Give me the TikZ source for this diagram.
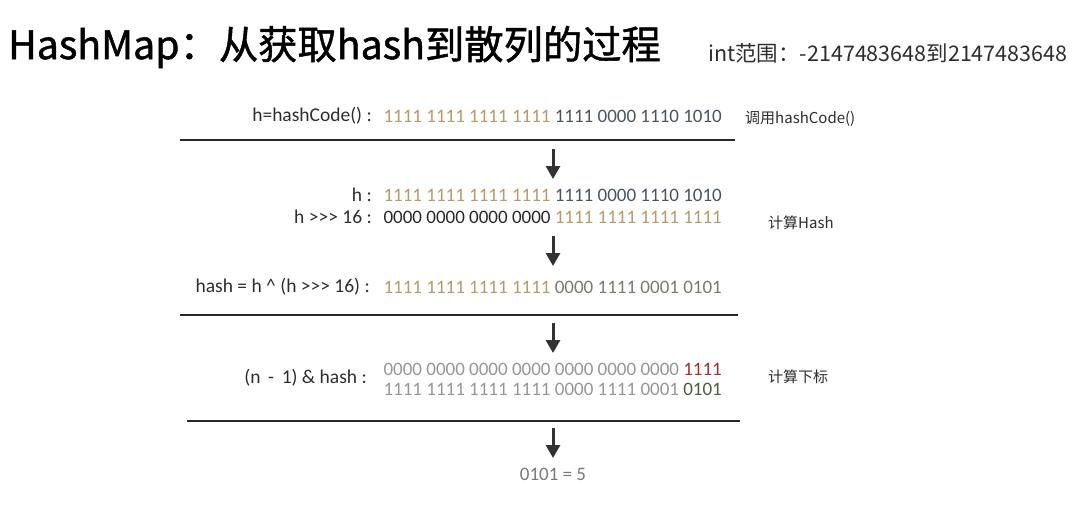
\documentclass[tikz,border=0pt]{standalone}
\usepackage{fontspec}
\setmainfont{Carlito}
\newfontfamily\cjk{Noto Sans CJK SC}
\newfontfamily\cjktitle{Noto Sans CJK SC}[FakeBold=1.2]
\usetikzlibrary{arrows.meta,positioning}
\definecolor{bittan}{RGB}{186,152,104}
\definecolor{bitslate}{RGB}{72,84,96}
\definecolor{bitdark}{RGB}{40,40,40}
\definecolor{bitgreen}{RGB}{118,124,108}
\definecolor{bitgray}{RGB}{150,150,150}
\definecolor{bitred}{RGB}{165,45,45}
\definecolor{bitolive}{RGB}{78,88,66}
\definecolor{labelgray}{RGB}{45,45,45}
\definecolor{rulegray}{RGB}{40,40,40}
\definecolor{arrowgray}{RGB}{50,50,50}

\begin{document}
\begin{tikzpicture}[x=1pt,y=-1pt,
    bits/.style={anchor=east,inner sep=0pt,font=\fontsize{19}{19}\selectfont},
    lbl/.style={anchor=east,inner sep=0pt,text=labelgray,font=\fontsize{19.5}{19.5}\selectfont},
    note/.style={anchor=west,inner sep=0pt,text=labelgray,font=\cjk\fontsize{15}{15}\selectfont},
    rule/.style={line width=2pt,draw=rulegray},
    down/.style={-{Triangle[width=14pt,length=13pt]},line width=3pt,draw=arrowgray}]
    \useasboundingbox (0,0) rectangle (1082,514);

    % titles
    \node[anchor=west,inner sep=0pt,font=\cjktitle\fontsize{39.3}{39.3}\selectfont,text=black] (title) at (8,47) {HashMap：从获取hash到散列的过程};
    \node[anchor=west,inner sep=0pt,font=\cjk\fontsize{21.5}{21.5}\selectfont,text=labelgray] (range) at (708,53) {int范围：-2147483648到2147483648};

    % step 1: hashCode
    \node[lbl] (l1) at (372,116) {h=hashCode() :};
    \node[bits] (b1) at (722,116) {\textcolor{bittan}{1111 1111 1111 1111} \textcolor{bitslate}{1111 0000 1110 1010}};
    \node[note] (n1) at (745,119) {调用hashCode()};
    \coordinate (r1a) at (180,140);
    \coordinate (r1b) at (735,140);
    \draw[rule] (r1a) -- (r1b);

    % step 2: hash
    \coordinate (a1s) at (553,149);
    \coordinate (a1e) at (553,179);
    \draw[down] (a1s) -- (a1e);
    \node[lbl] (l2) at (372,195) {h :};
    \node[bits] (b2) at (722,195) {\textcolor{bittan}{1111 1111 1111 1111} \textcolor{bitslate}{1111 0000 1110 1010}};
    \node[lbl] (l3) at (372,217) {h {>}{>}{>} 16 :};
    \node[bits] (b3) at (722,217) {\textcolor{bitdark}{0000 0000 0000 0000} \textcolor{bittan}{1111 1111 1111 1111}};
    \node[note] (n2) at (768,223) {计算Hash};
    \coordinate (a2s) at (553,236);
    \coordinate (a2e) at (553,266);
    \draw[down] (a2s) -- (a2e);
    \node[lbl] (l4) at (370,287) {hash = h \^{} (h {>}{>}{>} 16) :};
    \node[bits] (b4) at (722,287) {\textcolor{bittan}{1111 1111 1111 1111} \textcolor{bitgreen}{0000 1111 0001 0101}};
    \coordinate (r2a) at (180,315);
    \coordinate (r2b) at (738,315);
    \draw[rule] (r2a) -- (r2b);

    % step 3: index
    \coordinate (a3s) at (553,323);
    \coordinate (a3e) at (553,353);
    \draw[down] (a3s) -- (a3e);
    \node[lbl] (l5) at (367,378) {(n \,-\, 1) \& hash :};
    \node[bits] (b5) at (722,369) {\textcolor{bitgray}{0000 0000 0000 0000 0000 0000 0000} \textcolor{bitred}{1111}};
    \node[bits] (b6) at (722,389) {\textcolor{bitgray}{1111 1111 1111 1111 0000 1111 0001} \textcolor{bitolive}{0101}};
    \node[note] (n3) at (768,377) {计算下标};
    \coordinate (r3a) at (187,421);
    \coordinate (r3b) at (740,421);
    \draw[rule] (r3a) -- (r3b);

    % result
    \coordinate (a4s) at (553,428);
    \coordinate (a4e) at (553,458);
    \draw[down] (a4s) -- (a4e);
    \node[inner sep=0pt,text=bitgray!80!black,font=\fontsize{19}{19}\selectfont] (res) at (553,474) {0101 = 5};
\end{tikzpicture}
\end{document}
